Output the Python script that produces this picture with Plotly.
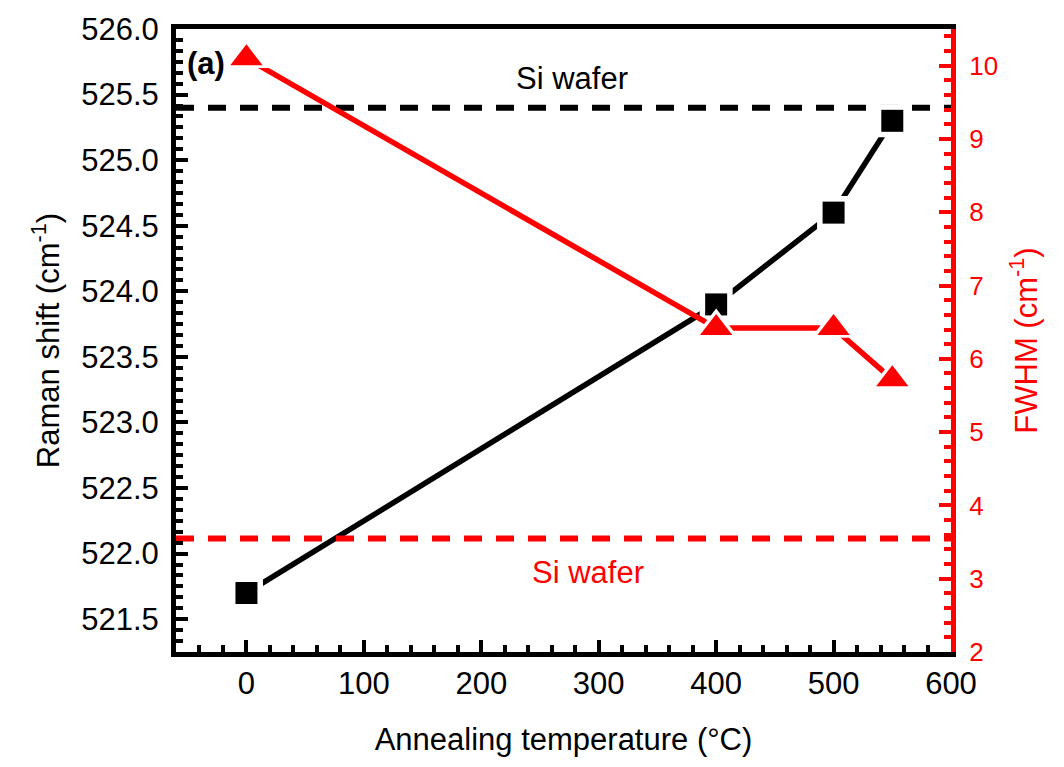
import plotly.graph_objects as go

# ---- data ----
temperature = [0, 400, 500, 550]
raman_shift = [521.7, 523.9, 524.6, 525.3]
fwhm = [10.1, 6.42, 6.42, 5.72]
si_wafer_shift = 525.4
si_wafer_fwhm = 3.55

x_ticks = [0, 100, 200, 300, 400, 500, 600]
y_ticks = [521.5, 522.0, 522.5, 523.0, 523.5, 524.0, 524.5, 525.0, 525.5, 526.0]
y2_ticks = [2, 3, 4, 5, 6, 7, 8, 9, 10]

FONT = "Arial, Liberation Sans, sans-serif"
RED = "#ff0000"

fig = go.Figure()

# reference lines (Si wafer)
fig.add_trace(go.Scatter(x=[-60, 600], y=[si_wafer_shift, si_wafer_shift], mode="lines",
                         line=dict(color="black", width=6, dash="18px,14px"), showlegend=False,
                         hoverinfo="skip"))
fig.add_trace(go.Scatter(x=[-60, 600], y=[si_wafer_fwhm, si_wafer_fwhm], mode="lines",
                         line=dict(color=RED, width=6, dash="18px,14px"), showlegend=False,
                         hoverinfo="skip", yaxis="y2"))

# Raman shift series
fig.add_trace(go.Scatter(x=temperature, y=raman_shift, mode="lines",
                         line=dict(color="black", width=5.5), showlegend=False))
fig.add_trace(go.Scatter(x=temperature, y=raman_shift, mode="markers",
                         marker=dict(symbol="square", size=33, color="white"), showlegend=False,
                         hoverinfo="skip"))
fig.add_trace(go.Scatter(x=temperature, y=raman_shift, mode="markers",
                         marker=dict(symbol="square", size=22, color="black"), showlegend=False))

# FWHM series
fig.add_trace(go.Scatter(x=temperature, y=fwhm, mode="lines", yaxis="y2",
                         line=dict(color=RED, width=5.5), showlegend=False))
fig.add_trace(go.Scatter(x=temperature, y=fwhm, mode="markers", yaxis="y2",
                         marker=dict(symbol="triangle-up", size=39, color="white"), showlegend=False,
                         hoverinfo="skip"))
fig.add_trace(go.Scatter(x=temperature, y=fwhm, mode="markers", yaxis="y2",
                         marker=dict(symbol="triangle-up", size=28, color=RED), showlegend=False))

fig.update_layout(
    width=1064, height=767,
    margin=dict(l=176, r=113, t=25, b=115),
    paper_bgcolor="white", plot_bgcolor="white",
    font=dict(family=FONT, color="black"),
    xaxis=dict(
        range=[-60, 600], tickvals=x_ticks, ticktext=[str(v) for v in x_ticks],
        showgrid=False, zeroline=False,
        showline=True, linecolor="black", linewidth=5, mirror=True,
        ticks="inside", ticklen=12, tickwidth=4, tickcolor="black",
        minor=dict(dtick=20, tick0=0, ticks="inside", ticklen=7, tickwidth=4, tickcolor="black"),
        tickfont=dict(size=31, family=FONT, color="black"),
        title=dict(text="Annealing temperature (°C)", font=dict(size=31, family=FONT, color="black"),
                   standoff=30),
    ),
    yaxis=dict(
        range=[521.25, 526.0], tickvals=y_ticks, ticktext=[f"{v:.1f}" for v in y_ticks],
        showgrid=False, zeroline=False,
        showline=True, linecolor="black", linewidth=5,
        ticks="inside", ticklen=12, tickwidth=4, tickcolor="black",
        minor=dict(dtick=0.5 / 6, tick0=521.5, ticks="inside", ticklen=7, tickwidth=4, tickcolor="black"),
        tickfont=dict(size=31, family=FONT, color="black"),
        ticklabelstandoff=6,
        title=dict(text="Raman shift (cm<sup>-1</sup>)", font=dict(size=31, family=FONT, color="black"),
                   standoff=14),
    ),
    yaxis2=dict(
        range=[2, 10.5], overlaying="y", side="right", tickvals=y2_ticks,
        ticktext=[str(v) for v in y2_ticks],
        showgrid=False, zeroline=False,
        showline=True, linecolor=RED, linewidth=5,
        ticks="inside", ticklen=12, tickwidth=4, tickcolor=RED,
        minor=dict(dtick=0.2, tick0=2, ticks="inside", ticklen=7, tickwidth=4, tickcolor=RED),
        tickfont=dict(size=26, family=FONT, color=RED),
        ticklabelstandoff=8,
        title=dict(text="FWHM (cm<sup>-1</sup>)", font=dict(size=31, family=FONT, color=RED),
                   standoff=20),
    ),
    annotations=[
        dict(text="<b>(a)</b>", xref="paper", yref="paper", x=0.012, y=0.945,
             xanchor="left", yanchor="middle", showarrow=False,
             font=dict(size=31, family=FONT, color="black")),
        dict(text="Si wafer", xref="paper", yref="paper", x=0.511, y=0.92,
             xanchor="center", yanchor="middle", showarrow=False,
             font=dict(size=31, family=FONT, color="black")),
        dict(text="Si wafer", xref="paper", yref="paper", x=0.531, y=0.128,
             xanchor="center", yanchor="middle", showarrow=False,
             font=dict(size=31, family=FONT, color=RED)),
    ],
)

fig.write_html("out.html")
